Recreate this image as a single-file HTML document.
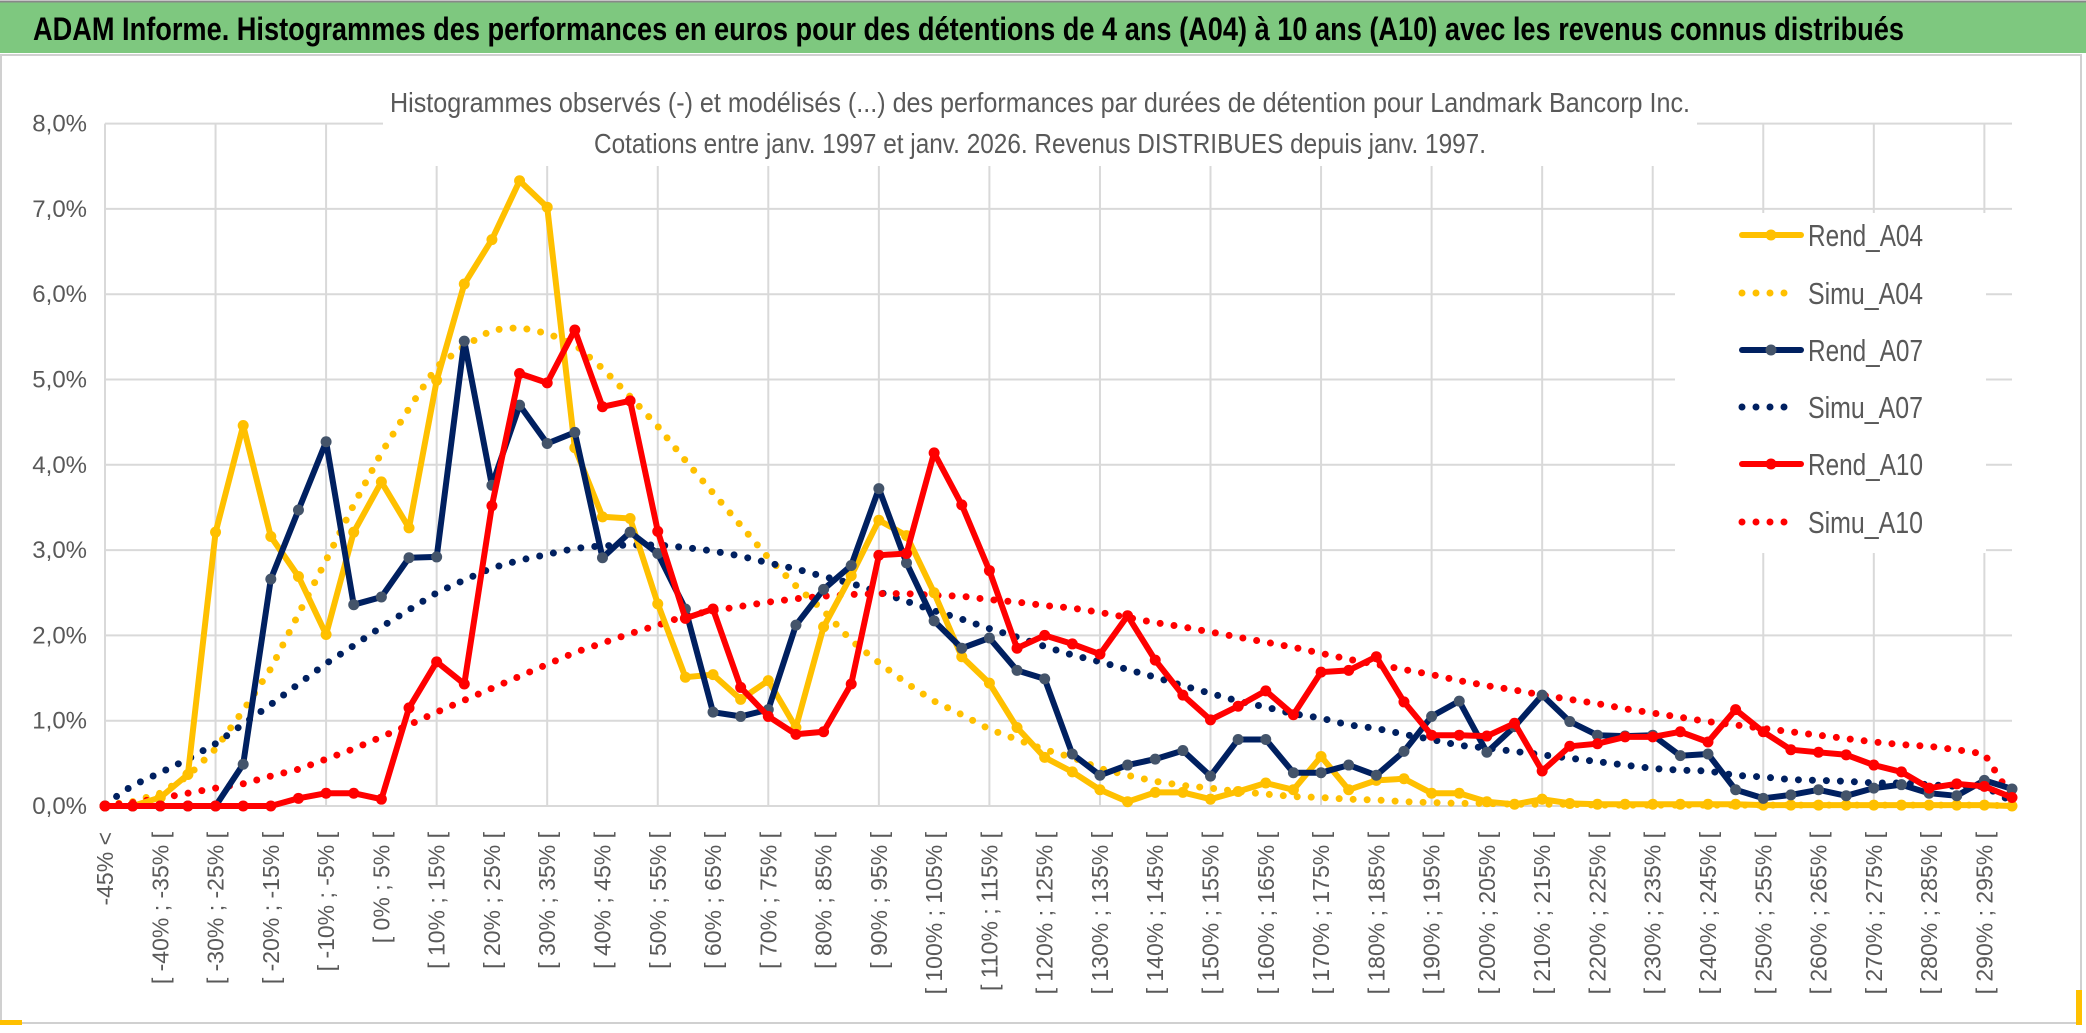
<!DOCTYPE html>
<html><head><meta charset="utf-8"><style>
html,body{margin:0;padding:0;background:#fff;}
svg{display:block;}
</style></head><body>
<svg id="chart" width="2086" height="1033" viewBox="0 0 2086 1033" xmlns="http://www.w3.org/2000/svg" font-family="'Liberation Sans Narrow','Liberation Sans',sans-serif">
  <rect x="0" y="0" width="2086" height="1033" fill="#fff"/>
  <rect x="1" y="55" width="2080" height="968" fill="none" stroke="#d0d0d0" stroke-width="2"/>
  <rect x="0" y="2" width="2086" height="51" fill="#7ec87f"/>
  <line x1="0" y1="1.5" x2="2086" y2="1.5" stroke="#888" stroke-width="2"/>
  <text x="33" y="40" font-size="32" font-weight="bold" fill="#000" textLength="1871" lengthAdjust="spacingAndGlyphs">ADAM Informe. Histogrammes des performances en euros pour des détentions de 4 ans (A04) à 10 ans (A10) avec les revenus connus distribués</text>
  <rect x="0" y="1020" width="22" height="5" fill="#ffc000"/>
  <rect x="2076" y="990" width="6" height="35" fill="#ffc000"/>
  <g id="grid"></g>
  <rect x="383" y="60" width="1314" height="106" fill="#fff"/>
  <rect x="1675" y="213" width="311" height="340" fill="#fff"/>
  <text x="1040" y="112" font-size="28" fill="#595959" text-anchor="middle" textLength="1300" lengthAdjust="spacingAndGlyphs">Histogrammes observés (-) et modélisés (...) des performances par durées de détention pour Landmark Bancorp Inc.</text>
  <text x="1040" y="153" font-size="28" fill="#595959" text-anchor="middle" textLength="892" lengthAdjust="spacingAndGlyphs">Cotations entre janv. 1997 et janv. 2026. Revenus DISTRIBUES depuis janv. 1997.</text>
  <g id="yaxis"></g>
  <g id="xaxis"></g>
  <g id="series"></g>
  <g id="legend"></g>
</svg>
<script>
const rendA04 = [0,0,0.1,0.37,3.21,4.46,3.16,2.69,2.01,3.21,3.8,3.26,4.99,6.12,6.64,7.33,7.02,4.2,
3.39,3.37,2.37,1.51,1.54,1.25,1.47,0.92,2.1,2.7,3.35,3.17,2.5,1.75,1.44,0.92,0.57,0.4,
0.19,0.05,0.16,0.16,0.08,0.17,0.27,0.19,0.58,0.19,0.3,0.32,0.15,0.15,0.05,0.02,0.08,0.03,0.02,
0.02,0.02,0.02,0.02,0.02,0.01,0.01,0.01,0.01,0.01,0.01,0.01,0.01,0.01,0];
const simuA04 = [0.01,0.05,0.15,0.35,0.67,1.12,1.61,2.25,2.88,3.53,4.14,4.66,5.15,5.39,5.58,5.61,5.54,5.41,
5.13,4.8,4.45,4.05,3.67,3.29,2.91,2.58,2.29,1.94,1.68,1.44,1.23,1.07,0.9,0.78,0.66,0.57,
0.44,0.36,0.29,0.24,0.21,0.17,0.14,0.11,0.1,0.08,0.07,0.05,0.04,0.03,0.03,0.02,0.02,0.02,0.01,
0.01,0.01,0.01,0.01,0.01,0.01,0.01,0.01,0.01,0.01,0.01,0.01,0.01,0.01,0];
const rendA07 = [0,0,0,0,0,0.49,2.66,3.47,4.27,2.36,2.45,2.91,2.92,5.45,3.76,4.7,4.25,4.38,
2.91,3.21,2.96,2.31,1.1,1.05,1.13,2.12,2.54,2.82,3.72,2.85,2.17,1.85,1.97,1.59,1.49,0.61,
0.36,0.48,0.55,0.65,0.35,0.78,0.78,0.39,0.39,0.48,0.36,0.64,1.05,1.23,0.63,0.93,1.3,0.99,0.83,
0.82,0.83,0.59,0.61,0.19,0.09,0.13,0.19,0.12,0.21,0.25,0.15,0.12,0.3,0.2];
const simuA07 = [0.02,0.24,0.39,0.55,0.73,0.96,1.19,1.43,1.67,1.88,2.1,2.3,2.5,2.65,2.79,2.88,2.95,3.02,
3.05,3.06,3.06,3.03,2.99,2.93,2.85,2.78,2.69,2.61,2.51,2.4,2.29,2.19,2.08,1.98,1.87,1.77,
1.69,1.6,1.51,1.41,1.32,1.23,1.16,1.08,1.03,0.95,0.91,0.84,0.78,0.71,0.68,0.64,0.6,0.56,0.52,
0.48,0.44,0.42,0.41,0.36,0.34,0.31,0.3,0.29,0.27,0.27,0.25,0.23,0.23,0.05];
const rendA10 = [0,0,0,0,0,0,0,0.09,0.15,0.15,0.08,1.15,1.69,1.43,3.52,5.07,4.96,5.58,
4.68,4.75,3.22,2.2,2.31,1.39,1.05,0.84,0.87,1.43,2.94,2.96,4.14,3.53,2.76,1.85,2.0,1.9,
1.78,2.23,1.71,1.3,1.01,1.17,1.35,1.07,1.57,1.59,1.75,1.22,0.83,0.83,0.82,0.97,0.41,0.7,0.73,
0.81,0.81,0.87,0.75,1.13,0.87,0.66,0.63,0.6,0.48,0.4,0.21,0.26,0.23,0.1];
const simuA10 = [0.01,0.04,0.09,0.15,0.21,0.26,0.35,0.43,0.55,0.67,0.81,0.95,1.1,1.24,1.38,1.52,1.66,1.8,
1.91,2.02,2.12,2.23,2.29,2.34,2.39,2.43,2.46,2.48,2.49,2.49,2.47,2.46,2.42,2.39,2.35,2.32,
2.27,2.21,2.15,2.1,2.04,1.98,1.92,1.86,1.79,1.72,1.66,1.6,1.54,1.47,1.41,1.36,1.3,1.25,1.2,
1.14,1.09,1.04,0.99,0.95,0.91,0.87,0.83,0.79,0.75,0.72,0.7,0.66,0.61,0.1];
const yTicks = [0,1,2,3,4,5,6,7,8];
const yTickLabels = ["0,0%","1,0%","2,0%","3,0%","4,0%","5,0%","6,0%","7,0%","8,0%"];
const categories = ["-45% <"];
for (let i = 1; i < 70; i++) { categories.push("[ " + (-50 + 5*i) + "% ; " + (-45 + 5*i) + "% ["); }

const NS = "http://www.w3.org/2000/svg";
const X0 = 105, X1 = 2012, Y0 = 806, YPER = 85.3;
const step = (X1 - X0) / (categories.length - 1);
function xs(i){ return X0 + i*step; }
function ys(v){ return Y0 - v*YPER; }
function mk(tag, attrs, parent){ const e = document.createElementNS(NS, tag); for (const k in attrs) e.setAttribute(k, attrs[k]); parent.appendChild(e); return e; }

const grid = document.getElementById('grid');
yTicks.forEach(t => {
  const l = mk('line', {x1:X0, x2:X1, y1:ys(t), y2:ys(t), stroke:'#d9d9d9', 'stroke-width':2}, grid);
  
  
});
for (let i = 0; i < categories.length; i += 4) {
  const l = mk('line', {x1:xs(i), x2:xs(i), y1:ys(8), y2:Y0, stroke:'#d9d9d9', 'stroke-width':2}, grid);
  
  
}
const yaxis = document.getElementById('yaxis');
yTicks.forEach((t, k) => {
  const tx = mk('text', {x:87, y:ys(t)+8, 'font-size':24, fill:'#595959', 'text-anchor':'end'}, yaxis);
  tx.textContent = yTickLabels[k];
  
  
});
const xaxis = document.getElementById('xaxis');
for (let i = 0; i < categories.length; i += 2) {
  const px = xs(i) + 8;
  const tx = mk('text', {x:px, y:832, 'font-size':23, fill:'#595959', 'text-anchor':'end', transform:'rotate(-90 '+px+' 832)', 'font-family':"'Liberation Sans',sans-serif"}, xaxis);
  tx.textContent = categories[i];
  
  
}

const series = document.getElementById('series');
function pts(arr){ return arr.map((v,i) => xs(i).toFixed(1)+','+ys(v).toFixed(1)).join(' '); }
function dotted(arr, color, name){
  const p = mk('polyline', {points:pts(arr), fill:'none', stroke:color, 'stroke-width':7, 'stroke-linecap':'round', 'stroke-dasharray':'0 14'}, series);
  
  
}
function solid(arr, color, mcolor, name){
  const g = mk('g', {}, series);
  
  
  mk('polyline', {points:pts(arr), fill:'none', stroke:color, 'stroke-width':6, 'stroke-linejoin':'round'}, g);
  arr.forEach((v,i) => {
    const c = mk('circle', {cx:xs(i), cy:ys(v), r:5.5, fill:mcolor}, g);
    
    
  });
}
dotted(simuA04, '#ffc000', 'simu-a04-line');
dotted(simuA07, '#002060', 'simu-a07-line');
dotted(simuA10, '#ff0000', 'simu-a10-line');
solid(rendA04, '#ffc000', '#ffc000', 'rend-a04-line');
solid(rendA07, '#002060', '#44546a', 'rend-a07-line');
solid(rendA10, '#ff0000', '#ff0000', 'rend-a10-line');

const legend = document.getElementById('legend');
const legNames = ["Rend_A04","Simu_A04","Rend_A07","Simu_A07","Rend_A10","Simu_A10"];
const legColors = ["#ffc000","#ffc000","#002060","#002060","#ff0000","#ff0000"];
const legMarker = ["#ffc000","","#44546a","","#ff0000",""];
const legY = [235,293,350,407,464,522];
legNames.forEach((n, k) => {
  const g = mk('g', {}, legend);
  
  
  const y = legY[k];
  if (k % 2 === 0) {
    mk('line', {x1:1742, x2:1801, y1:y, y2:y, stroke:legColors[k], 'stroke-width':6, 'stroke-linecap':'round'}, g);
    mk('circle', {cx:1771, cy:y, r:5.5, fill:legMarker[k]}, g);
  } else {
    mk('line', {x1:1742, x2:1792, y1:y, y2:y, stroke:legColors[k], 'stroke-width':7, 'stroke-linecap':'round', 'stroke-dasharray':'0 14'}, g);
  }
  const t = mk('text', {x:1808, y:y+11, 'font-size':31, fill:'#595959', textLength:115, lengthAdjust:'spacingAndGlyphs'}, g);
  t.textContent = n;
});
</script>
</body></html>
